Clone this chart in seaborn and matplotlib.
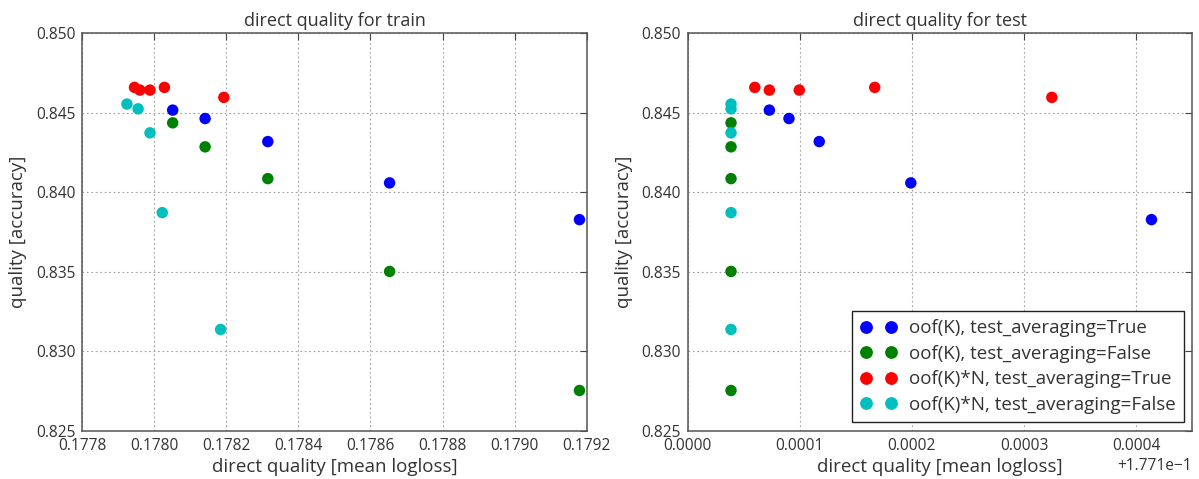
import numpy as np
import pandas as pd
import matplotlib
matplotlib.use("Agg")
import matplotlib.pyplot as plt
import matplotlib.ticker as mticker
from matplotlib.lines import Line2D
import seaborn as sns

# ---- data -------------------------------------------------------------
series_names = [
    "oof(K), test_averaging=True",
    "oof(K), test_averaging=False",
    "oof(K)*N, test_averaging=True",
    "oof(K)*N, test_averaging=False",
]
series_colors = ["#0000ff", "#008000", "#ff0000", "#00bfbf"]

# accuracy (shared by train and test panels)
acc_oof_true = [0.84517, 0.84464, 0.84319, 0.84059, 0.83828]
acc_oof_false = [0.84437, 0.84286, 0.84086, 0.83502, 0.82753]
acc_oofn_true = [0.84660, 0.84643, 0.84643, 0.84660, 0.84597]
acc_oofn_false = [0.84555, 0.84525, 0.84374, 0.83872, 0.83137]

# mean logloss on train
train_oof_true = [0.178051, 0.178141, 0.178315, 0.178653, 0.179180]
train_oof_false = [0.178051, 0.178141, 0.178315, 0.178653, 0.179180]
train_oofn_true = [0.177945, 0.177960, 0.177988, 0.178028, 0.178193]
train_oofn_false = [0.177924, 0.177955, 0.177988, 0.178022, 0.178184]

# mean logloss on test
test_oof_true = [0.1771728, 0.1771903, 0.1772173, 0.1772990, 0.1775137]
test_oof_false = [0.1771386, 0.1771386, 0.1771386, 0.1771386, 0.1771386]
test_oofn_true = [0.1771598, 0.1771728, 0.1771995, 0.1772668, 0.1774248]
test_oofn_false = [0.1771386, 0.1771386, 0.1771386, 0.1771386, 0.1771386]


def frame(xs_list):
    ys_list = [acc_oof_true, acc_oof_false, acc_oofn_true, acc_oofn_false]
    rows = []
    for name, xs, ys in zip(series_names, xs_list, ys_list):
        for x, y in zip(xs, ys):
            rows.append({"logloss": x, "accuracy": y, "series": name})
    return pd.DataFrame(rows)


train_df = frame([train_oof_true, train_oof_false, train_oofn_true, train_oofn_false])
test_df = frame([test_oof_true, test_oof_false, test_oofn_true, test_oofn_false])

# ---- style ------------------------------------------------------------
sns.set_style("white")
plt.rcParams["font.family"] = ["Open Sans", "DejaVu Sans"]
text_color = "#333333"
plt.rcParams.update({
    "text.color": text_color,
    "axes.labelcolor": text_color,
    "xtick.color": "#444444",
    "ytick.color": "#444444",
    "xtick.labelcolor": text_color,
    "ytick.labelcolor": text_color,
})

fig = plt.figure(figsize=(11.99, 4.79), dpi=100)
ax_train = fig.add_axes([0.0686, 0.1008, 0.4207, 0.8296])
ax_test = fig.add_axes([0.5736, 0.1008, 0.4207, 0.8296])

palette = dict(zip(series_names, series_colors))

for ax, df, title in [(ax_train, train_df, "direct quality for train"),
                      (ax_test, test_df, "direct quality for test")]:
    sns.scatterplot(data=df, x="logloss", y="accuracy", hue="series",
                    hue_order=series_names, palette=palette, s=68,
                    linewidth=0, legend=False, ax=ax, zorder=3)
    ax.set_title(title, fontsize=13, color=text_color, pad=5)
    ax.set_xlabel("direct quality [mean logloss]", fontsize=13.5, labelpad=3)
    ax.set_ylabel("quality [accuracy]", fontsize=13.5, labelpad=6)
    ax.set_ylim(0.825, 0.850)
    ax.yaxis.set_major_locator(mticker.MultipleLocator(0.005))
    ax.yaxis.set_major_formatter(mticker.FormatStrFormatter("%.3f"))
    ax.grid(True, color="#a0a0a0", linestyle=(0, (1.5, 2.5)), linewidth=0.8)
    ax.set_axisbelow(True)
    for sp in ax.spines.values():
        sp.set_color("#555555")
        sp.set_linewidth(1.1)
    ax.tick_params(direction="in", length=5, width=0.8, top=True, right=True,
                   labelsize=11.2, pad=5)

ax_train.set_xlim(0.1778, 0.1792)
ax_train.xaxis.set_major_locator(mticker.MultipleLocator(0.0002))
ax_train.xaxis.set_major_formatter(mticker.FormatStrFormatter("%.4f"))

ax_test.set_xlim(0.1771, 0.17755)
ax_test.xaxis.set_major_locator(mticker.MultipleLocator(0.0001))
fmt = mticker.ScalarFormatter(useOffset=0.1771)
fmt.set_scientific(False)
ax_test.xaxis.set_major_formatter(fmt)
ax_test.xaxis.get_offset_text().set_fontsize(11.2)

handles = [Line2D([0], [0], marker="o", linestyle="", markersize=8.2,
                  markerfacecolor=c, markeredgecolor=c)
           for c in series_colors]
leg = ax_test.legend(handles, series_names, loc="lower right", numpoints=2,
                     fontsize=13.5, handlelength=1.9, handletextpad=0.65,
                     labelspacing=0.4, borderpad=0.45, borderaxespad=0.45,
                     fancybox=False, framealpha=1, edgecolor="#222222")
leg.get_frame().set_linewidth(1.0)

fig.savefig("out.png", dpi=100)
